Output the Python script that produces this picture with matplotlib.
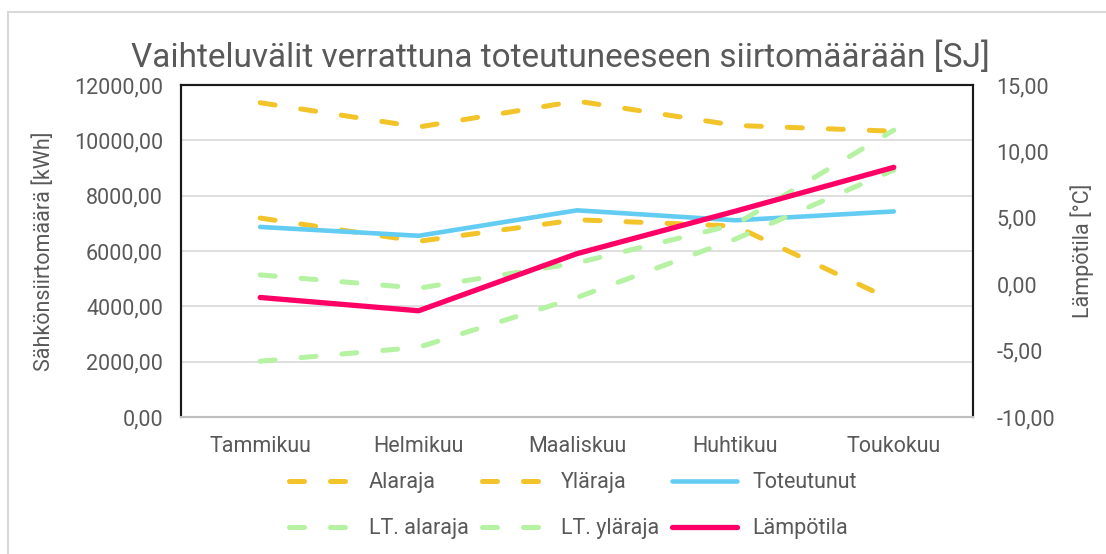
import matplotlib
matplotlib.use("Agg")
import matplotlib.pyplot as plt
from matplotlib.patches import Rectangle
from matplotlib.ticker import FuncFormatter

plt.rcParams["font.family"] = ["Roboto", "DejaVu Sans"]

# data (luettu kuvasta)
kuukaudet = ["Tammikuu", "Helmikuu", "Maaliskuu", "Huhtikuu", "Toukokuu"]
alaraja = [7190, 6350, 7130, 6900, 4200]          # kWh
ylaraja = [11360, 10480, 11420, 10540, 10330]     # kWh
toteutunut = [6870, 6550, 7470, 7110, 7430]       # kWh
lt_alaraja = [-5.8, -4.75, -1.0, 3.4, 8.6]        # °C
lt_ylaraja = [0.7, -0.3, 1.6, 4.5, 11.6]          # °C
lampotila = [-1.0, -2.0, 2.3, 5.5, 8.8]           # °C

GREY = "#595959"
YELLOW = "#F2C42A"
GREEN = "#B5F2A2"
BLUE = "#62CCF2"
RED = "#FF0066"
FS = 15.5


def fmt(v, _pos=None):
    return f"{v:.2f}".replace(".", ",")


fig = plt.figure(figsize=(11.06, 5.54), dpi=100)
ax1 = fig.add_axes([181 / 1106, 137 / 554, 792 / 1106, 332 / 554])
ax2 = ax1.twinx()

x = list(range(len(kuukaudet)))
dash = dict(linestyle=(0, (3.0, 5.2)), dash_capstyle="round", lw=3.6)

l_ala, = ax1.plot(x, alaraja, color=YELLOW, label="Alaraja", zorder=3, **dash)
l_yla, = ax1.plot(x, ylaraja, color=YELLOW, label="Yläraja", zorder=3, **dash)
l_tot, = ax1.plot(x, toteutunut, color=BLUE, lw=3.3, solid_capstyle="round",
                  label="Toteutunut", zorder=4)
l_lta, = ax2.plot(x, lt_alaraja, color=GREEN, label="LT. alaraja", zorder=3, **dash)
l_lty, = ax2.plot(x, lt_ylaraja, color=GREEN, label="LT. yläraja", zorder=3, **dash)
l_lam, = ax2.plot(x, lampotila, color=RED, lw=3.8, solid_capstyle="round",
                  label="Lämpötila", zorder=5)

ax1.set_xlim(-0.5, len(kuukaudet) - 0.5)
ax1.set_ylim(0, 12000)
ax2.set_ylim(-10, 15)
ax1.set_yticks(range(0, 12001, 2000))
ax2.set_yticks(range(-10, 16, 5))
ax1.yaxis.set_major_formatter(FuncFormatter(fmt))
ax2.yaxis.set_major_formatter(FuncFormatter(fmt))
ax1.set_xticks(x)
ax1.set_xticklabels(kuukaudet)

ax1.grid(axis="y", color="#d9d9d9", lw=1.2)
ax1.set_axisbelow(True)
ax1.tick_params(axis="y", length=0, pad=13, labelsize=FS, labelcolor=GREY)
ax1.tick_params(axis="x", length=0, pad=14, labelsize=FS, labelcolor=GREY)
ax2.tick_params(axis="y", length=0, pad=17, labelsize=FS, labelcolor=GREY)

for ax in (ax1, ax2):
    for s in ("left", "right", "top"):
        ax.spines[s].set_color("#1a1a1a")
        ax.spines[s].set_linewidth(1.5)
    ax.spines["bottom"].set_color("#bfbfbf")
    ax.spines["bottom"].set_linewidth(1.5)

ax1.set_ylabel("Sähkönsiirtomäärä [kWh]", fontsize=FS, color=GREY)
ax2.set_ylabel("Lämpötila [°C]", fontsize=FS, color=GREY, rotation=90)
ax1.yaxis.set_label_coords(-0.159, 0.5)
ax2.yaxis.set_label_coords(1.1225, 0.5)

fig.text(0.507, 0.895, "Vaihteluvälit verrattuna toteutuneeseen siirtomäärään [SJ]",
         ha="center", va="center", fontsize=24, color=GREY,
         family=["Liberation Sans Narrow", "Roboto", "DejaVu Sans"])

# legend: column-major order -> rows as in the original
handles = [l_ala, l_lta, l_yla, l_lty, l_tot, l_lam]
fig.legend(handles, [h.get_label() for h in handles], ncol=3,
           loc="center", bbox_to_anchor=(0.518, 0.087), frameon=False,
           fontsize=FS, labelcolor=GREY, handlelength=3.0, handletextpad=0.7,
           columnspacing=0.6, labelspacing=1.15)

# outer chart border
fig.patches.append(Rectangle((8 / 1106, -0.1), 1.2, 1.1 - 12 / 554,
                             transform=fig.transFigure, fill=False,
                             edgecolor="#d9d9d9", lw=1.5))

fig.savefig("out.png", dpi=100)
